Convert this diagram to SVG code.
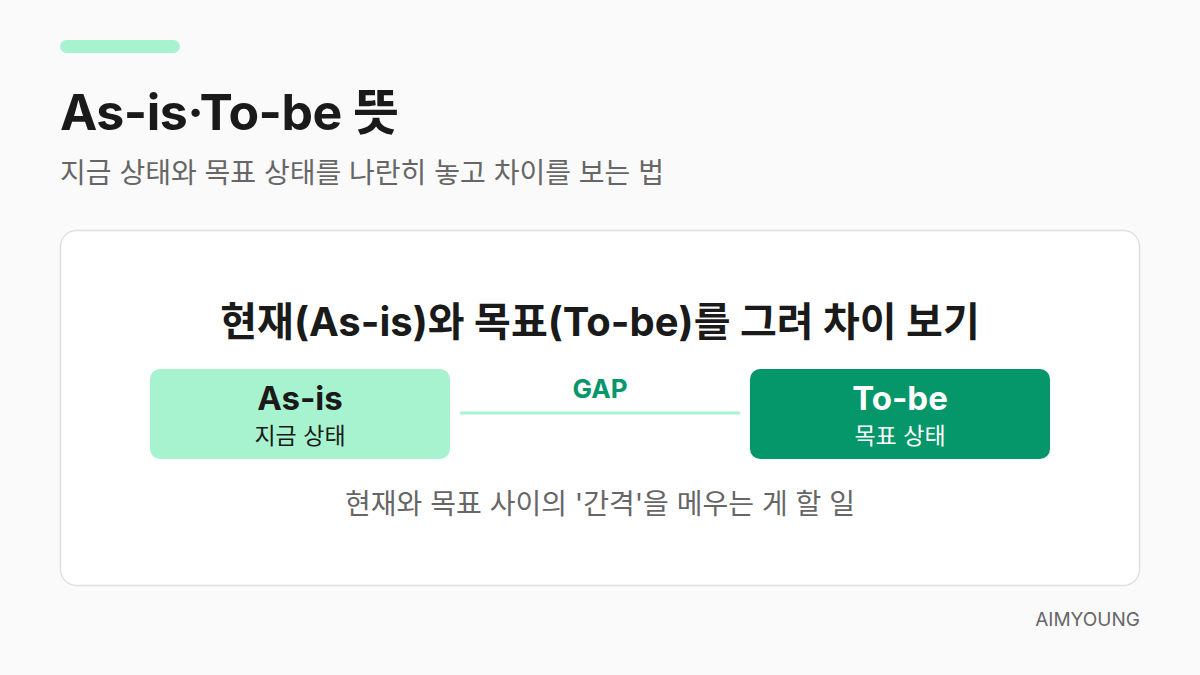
<svg xmlns="http://www.w3.org/2000/svg" width="1200" height="675" viewBox="0 0 1200 675">
<style>
text{font-family:Inter,"Noto Sans CJK KR",sans-serif}
.b{font-weight:700}
.g{fill:#666666}
</style>
<rect width="1200" height="675" fill="#fafafa"/>
<g id="header">
<rect x="60" y="40" width="120" height="13" rx="6.5" fill="#a7f3d0"/>
<text x="60" y="130" font-size="50" class="b" fill="#1a1a1a" letter-spacing="-0.5">As-is·To-be 뜻</text>
<text x="60" y="183" font-size="28" class="g">지금 상태와 목표 상태를 나란히 놓고 차이를 보는 법</text>
</g>
<g id="card">
<rect x="60.5" y="230.5" width="1079" height="355" rx="16" fill="#ffffff" stroke="#e0e0e0" stroke-width="1.5"/>
<text x="600" y="336" font-size="40" class="b" fill="#1a1a1a" text-anchor="middle">현재(As-is)와 목표(To-be)를 그려 차이 보기</text>
</g>
<g id="connectors">
<line x1="460" y1="413" x2="740" y2="413" stroke="#a7f3d0" stroke-width="3"/>
<text x="600" y="398" font-size="26" class="b" fill="#059669" text-anchor="middle">GAP</text>
</g>
<g id="asis">
<rect x="150" y="369" width="300" height="90" rx="10" fill="#a7f3d0"/>
<text x="300" y="410" font-size="33" class="b" fill="#1a1a1a" text-anchor="middle">As-is</text>
<text x="300" y="444" font-size="23" fill="#1a1a1a" text-anchor="middle">지금 상태</text>
</g>
<g id="tobe">
<rect x="750" y="369" width="300" height="90" rx="10" fill="#059669"/>
<text x="900" y="410" font-size="33" class="b" fill="#ffffff" text-anchor="middle">To-be</text>
<text x="900" y="444" font-size="23" fill="#ffffff" text-anchor="middle">목표 상태</text>
</g>
<g id="note">
<text x="600" y="514" font-size="28" class="g" text-anchor="middle">현재와 목표 사이의 '간격'을 메우는 게 할 일</text>
</g>
<text x="1140" y="626" font-size="19" class="g" text-anchor="end">AIMYOUNG</text>
</svg>
